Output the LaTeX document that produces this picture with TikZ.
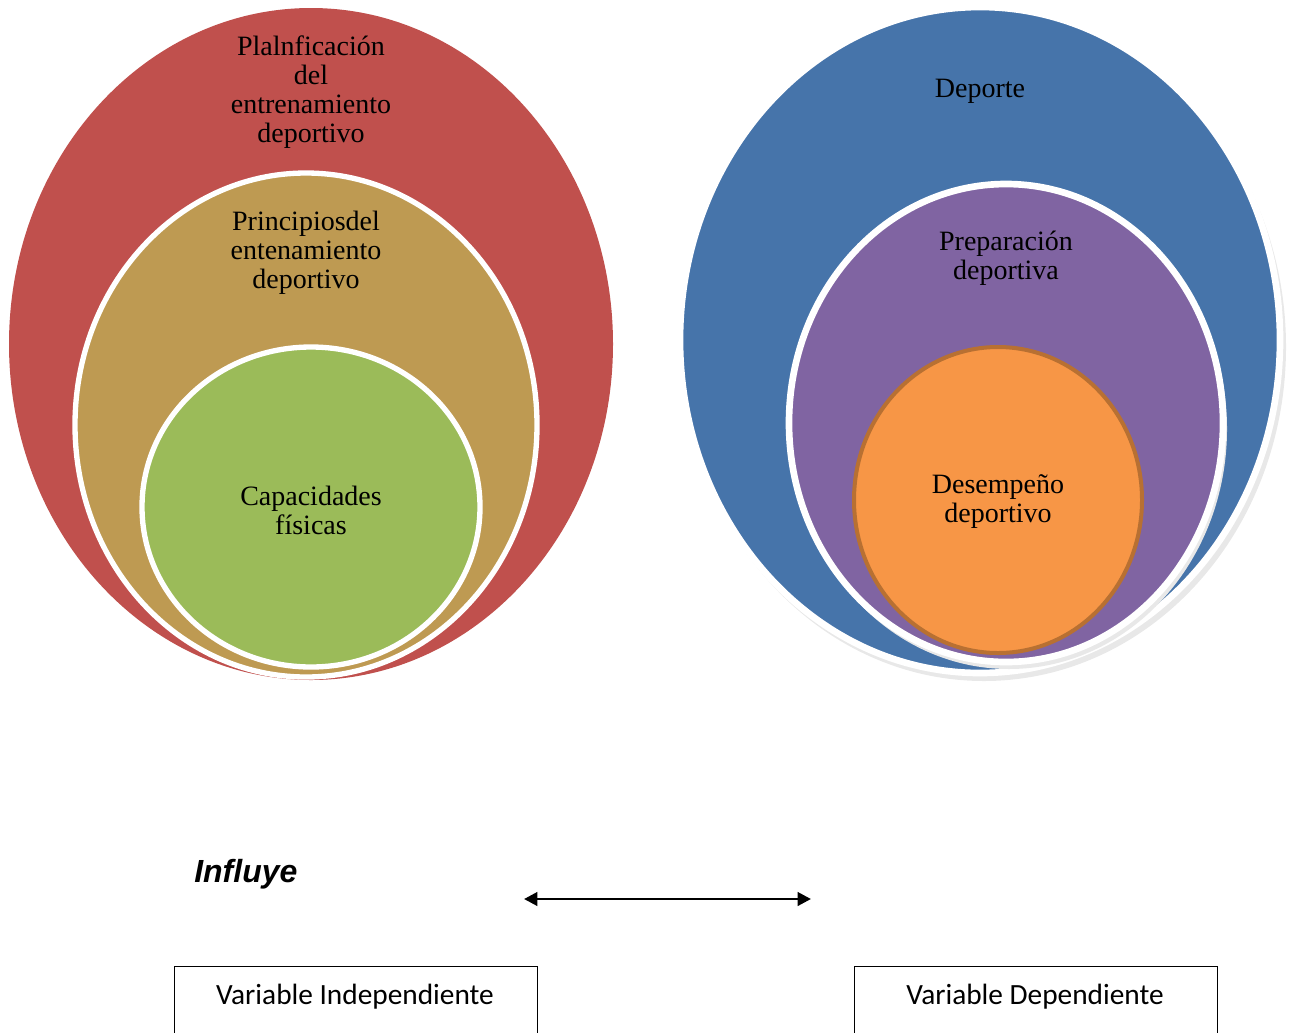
\documentclass[tikz,border=0pt]{standalone}
\usepackage{fontspec}
\setmainfont{Liberation Serif}
\newfontfamily\arialfont{Liberation Sans}
\newfontfamily\calibrifont{Carlito}
\usepackage{tikz}
\usetikzlibrary{arrows.meta}

\definecolor{redfill}{RGB}{192,80,77}
\definecolor{tanfill}{RGB}{190,154,82}
\definecolor{greenfill}{RGB}{155,187,89}
\definecolor{bluefill}{RGB}{70,116,170}
\definecolor{purplefill}{RGB}{128,100,162}
\definecolor{orangefill}{RGB}{247,150,70}
\definecolor{orangeline}{RGB}{184,112,50}

\tikzset{
  ring/.style={draw=white,line width=4},
  circtext/.style={align=center,font=\fontsize{21}{21.8}\selectfont,inner sep=0.75pt},
  varbox/.style={draw,line width=0.9,minimum width=272pt,minimum height=70pt,anchor=north west,inner sep=0pt}
}

\begin{document}
\begin{tikzpicture}[x=0.75pt,y=0.75pt,yscale=-1,xscale=1]
\useasboundingbox (0,0) rectangle (1298,1032);
\clip (0,0) rectangle (1298,1032);

%Left ellipses
\fill [redfill] (311,344) ellipse [x radius=302, y radius=336];
\draw [ring,fill=tanfill] (306,425) ellipse [x radius=231, y radius=252];
\draw [ring,fill=greenfill] (311,507) ellipse [x radius=169, y radius=160];

%Right ellipses
\fill [black!9] (984,347) ellipse [x radius=302, y radius=334];
\draw [ring,line width=5,fill=bluefill] (980,340) ellipse [x radius=300, y radius=333];
\fill [black!9] (1009,429) ellipse [x radius=218, y radius=240];
\draw [ring,line width=5,fill=purplefill] (1006,423) ellipse [x radius=217, y radius=239];
\draw [orangeline,line width=3,fill=orangefill] (998,500) ellipse [x radius=144, y radius=153];

% Text Node
\node [circtext] (plan) at (311,92) {Plalnficación\\del\\entrenamiento\\deportivo};
% Text Node
\node [circtext] (princ) at (306,253) {Principiosdel\\entenamiento\\deportivo};
% Text Node
\node [circtext] (capac) at (311,510) {Capacidades\\físicas};
% Text Node
\node [circtext] (dep) at (980,91) {Deporte};
% Text Node
\node [circtext] (prep) at (1006,258) {Preparación\\deportiva};
% Text Node
\node [circtext] (desem) at (998,502) {Desempeño\\deportivo};

% Text Node
\node [anchor=west,inner sep=0.75pt,font=\arialfont\bfseries\itshape\fontsize{24}{27}\selectfont] (infl) at (193,874) {Influye};

%Arrow
\coordinate (al) at (524,899);
\coordinate (ar) at (811,899);
\draw [line width=2.2,{Triangle[width=10,length=10]}-{Triangle[width=10,length=10]}] (al) -- (ar);

%Boxes
\node [varbox] (vind) at (174,966) {};
\node [varbox] (vdep) at (854,966) {};
\node [font=\calibrifont\fontsize{22}{26}\selectfont,inner sep=0.75pt] (tind) at (355,997) {Variable Independiente};
\node [font=\calibrifont\fontsize{22}{26}\selectfont,inner sep=0.75pt] (tdep) at (1035,997) {Variable Dependiente};

\end{tikzpicture}
\end{document}
